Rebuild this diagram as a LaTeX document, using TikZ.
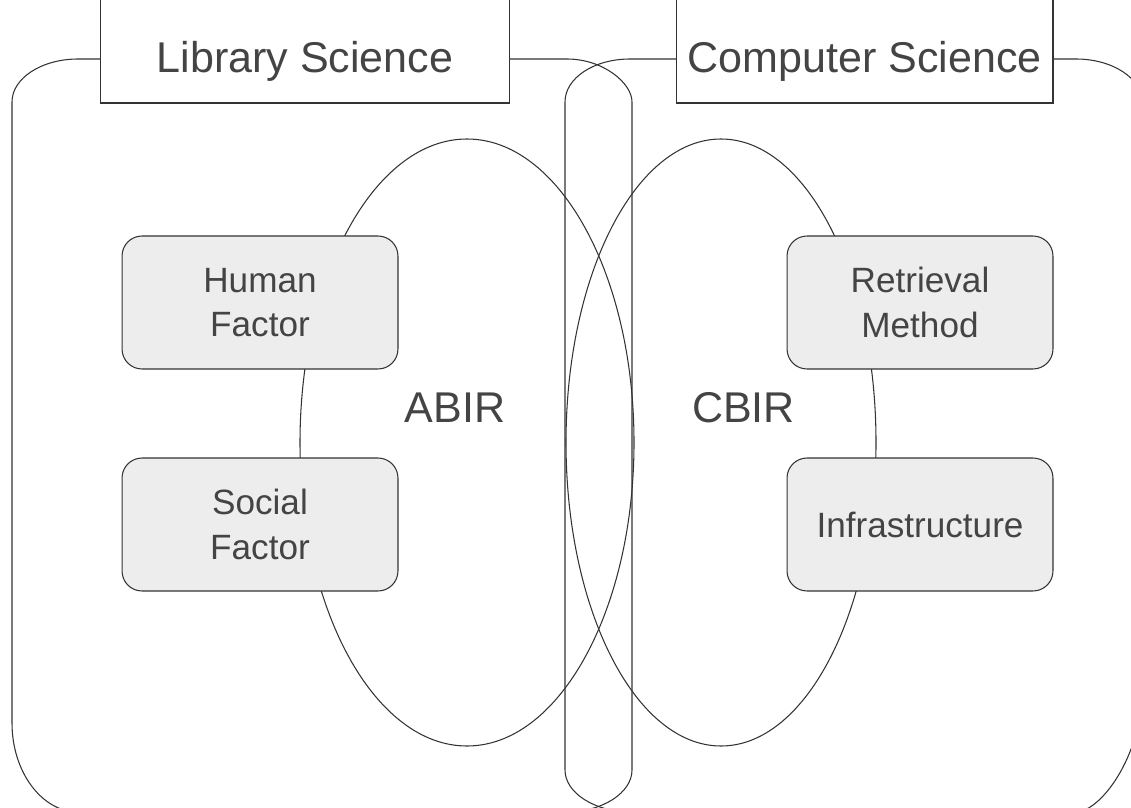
\documentclass[tikz,border=0pt]{standalone}
\usepackage{fontspec}
\setmainfont{Liberation Sans}
\usepackage{xcolor}
\usetikzlibrary{positioning}
\definecolor{linegray}{HTML}{333333}
\definecolor{textgray}{HTML}{444444}
\definecolor{boxgray}{HTML}{EDEDED}

\begin{document}
\begin{tikzpicture}[x=0.02cm, y=-0.02cm,
        region/.style={draw=linegray, line width=0.6pt},
        titlebox/.style={draw=linegray, fill=white, line width=0.6pt, inner sep=0pt,
                minimum height=2.1cm, text height=25.5pt, text depth=0pt,
                text=textgray, font=\fontsize{24.5}{29}\selectfont},
        factor/.style={draw=linegray, fill=boxgray, line width=0.6pt, rounded corners=0.4cm,
                minimum height=2.66cm, align=center, text=textgray,
                font=\fontsize{20}{25.5}\selectfont},
        irlabel/.style={text=textgray, inner sep=0pt, font=\fontsize{24.5}{29}\selectfont}]
    \useasboundingbox (0,0) rectangle (1131,807);
    \clip (0,0) rectangle (1131,807);

    % the two fields
    \draw [region] (12,723) -- (12,102) .. controls (12,78) and (42,59) .. (78,59)
        -- (567,59) .. controls (603,59) and (632,83) .. (632,102)
        -- (632,770) .. controls (632,793) and (602,812) .. (566,812)
        -- (78,812) .. controls (42,812) and (12,772) .. (12,723) -- cycle;
    \draw [region] (565,102) .. controls (565,78) and (594,59) .. (630,59)
        -- (1076,59) .. controls (1112,59) and (1142,78) .. (1142,102)
        -- (1142,689) .. controls (1142,757) and (1100,812) .. (1076,812)
        -- (631,812) .. controls (595,812) and (565,793) .. (565,770) -- cycle;

    % the two retrieval approaches
    \draw [region] (467,442.5) ellipse [x radius=167, y radius=303.5];
    \draw [region] (721,442.5) ellipse [x radius=155, y radius=303.5];

    \node [titlebox, minimum width=8.2cm] (libsci) at (305,50.5) {Library Science};
    \node [titlebox, minimum width=7.54cm] (compsci) at (864.5,50.5) {Computer Science};

    \node [factor, minimum width=5.52cm] (human) at (260,302.5) {Human\\Factor};
    \node [factor, minimum width=5.52cm] (social) at (260,524.5) {Social\\Factor};
    \node [factor, minimum width=5.32cm] (retrieval) at (920,302.5) {Retrieval\\Method};
    \node [factor, minimum width=5.32cm] (infra) at (920,524.5) {Infrastructure};

    \node [irlabel] (abir) at (455,407.5) {ABIR};
    \node [irlabel] (cbir) at (743.5,407.5) {CBIR};
\end{tikzpicture}
\end{document}
